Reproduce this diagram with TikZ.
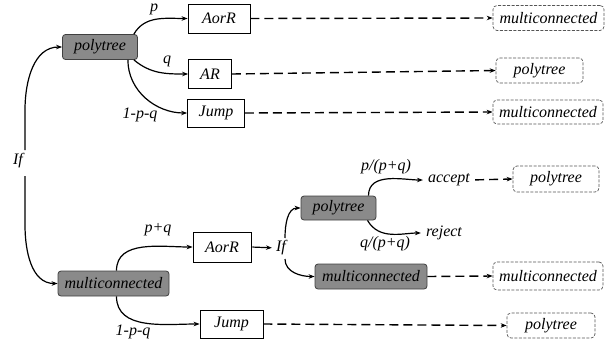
\documentclass[tikz,border=0pt]{standalone}
\usepackage{fontspec}
\setmainfont{Liberation Serif}
\newfontfamily\timesfont{Liberation Serif}
\newcommand{\diagfont}{\fontsize{16}{18}\selectfont\timesfont\itshape}
\usetikzlibrary{arrows.meta}
\definecolor{boxgray}{HTML}{8A8A8A}
\definecolor{dashgray}{HTML}{555555}
\begin{document}
\begin{tikzpicture}[x=1pt,y=-1pt,
  every node/.style={font=\diagfont, inner sep=0pt},
  graybox/.style={draw=black!75, fill=boxgray, rounded corners=3pt, line width=0.8pt, minimum height=25pt},
  whitebox/.style={draw=black, fill=white, line width=0.8pt, minimum height=29pt},
  dashbox/.style={draw=dashgray, dash pattern=on 3pt off 1.5pt, rounded corners=4pt, line width=0.7pt, minimum height=25pt},
  solidarrow/.style={line width=1.2pt, -{Stealth[length=6pt,width=4.5pt]}},
  dasharrow/.style={line width=1.4pt, dash pattern=on 9pt off 5pt, -{Stealth[length=6pt,width=4.5pt]}}
]
\useasboundingbox (0,0) rectangle (612,343);
% top part
\node[graybox, minimum width=75pt] (pt1) at (100,47) {polytree};
\node[whitebox, minimum width=62pt] (aorr1) at (219,18.5) {AorR};
\node[whitebox, minimum width=43pt] (ar1) at (210,74) {AR};
\node[whitebox, minimum width=57pt, minimum height=28pt] (jump1) at (216,113) {Jump};
\node[dashbox, minimum width=111pt] (mc1) at (548.5,18) {multiconnected};
\node[dashbox, minimum width=87pt] (pt2) at (539.5,70.5) {polytree};
\node[dashbox, minimum width=110pt, minimum height=24pt] (mc2) at (548,112) {multiconnected};
\node (p1) at (154,9) {p};
\node (q1) at (167,61) {q};
\node (pq1) at (140,115) {1-p-q};
% left If
\node (if1) at (18,161) {If};
\coordinate (ifup) at (25,150);
\coordinate (ifdn) at (25,176);
% bottom part
\node[graybox, minimum width=111pt] (mc3) at (113.5,283.5) {multiconnected};
\node[whitebox, minimum width=58pt, minimum height=30pt] (aorr2) at (222,247) {AorR};
\node[whitebox, minimum width=63pt, minimum height=28pt] (jump2) at (231.5,324) {Jump};
\node (pq2) at (158,230) {p+q};
\node (pq3) at (133,332) {1-p-q};
\node (if2) at (281,248) {If};
\coordinate (if2up) at (285,238);
\coordinate (if2dn) at (285,259);
\node[graybox, minimum width=75pt, minimum height=24pt] (pt3) at (338.5,208) {polytree};
\node[graybox, minimum width=112pt] (mc4) at (371,276.5) {multiconnected};
\node (pp) at (386,167) {p/(p+q)};
\node (qq) at (385,244) {q/(p+q)};
\node (acc) at (449,180) {accept};
\node (rej) at (444,233) {reject};
\node[dashbox, minimum width=86pt, minimum height=26pt] (pt4) at (556,179) {polytree};
\node[dashbox, minimum width=110pt, minimum height=28pt] (mc5) at (548,276) {multiconnected};
\node[dashbox, minimum width=88pt] (pt5) at (551,325.5) {polytree};
% solid arrows top
\draw[solidarrow] ([xshift=-4pt]pt1.north east) to[out=60,in=180] (aorr1.west);
\draw[solidarrow] ([xshift=-4pt]pt1.south east) to[out=-40,in=180] (ar1.west);
\draw[solidarrow] ([xshift=-10pt]pt1.south east) to[out=-90,in=180] (jump1.west);
\draw[solidarrow] (ifup) -- (25,110) to[out=90,in=180] (pt1.west);
\draw[solidarrow] (ifdn) -- (25,225) to[out=-90,in=180] (mc3.west);
% bottom solid
\draw[solidarrow] ([xshift=3pt]mc3.north) to[out=90,in=180] (aorr2.west);
\draw[solidarrow] ([xshift=3pt]mc3.south) to[out=-90,in=180] (jump2.west);
\draw[solidarrow, shorten <=1pt, shorten >=4pt] (aorr2.east) -- (if2.west);
\draw[solidarrow] (if2up) to[out=90,in=180] (pt3.west);
\draw[solidarrow] (if2dn) to[out=-90,in=180] (mc4.west);
\draw[solidarrow, shorten >=5pt] ([xshift=30pt]pt3.north) to[out=90,in=180] (acc.west);
\draw[solidarrow, shorten >=5pt] ([xshift=29pt]pt3.south) to[out=-60,in=180] (rej.west);
% dashed arrows
\draw[dasharrow] (aorr1.east) -- (mc1.west);
\draw[dasharrow] (ar1.east) -- (pt2.west);
\draw[dasharrow] (jump1.east) -- (mc2.west);
\draw[dasharrow, shorten <=5pt] (acc.east) -- (pt4.west);
\draw[dasharrow] (mc4.east) -- (mc5.west);
\draw[dasharrow] (jump2.east) -- (pt5.west);
\end{tikzpicture}
\end{document}
